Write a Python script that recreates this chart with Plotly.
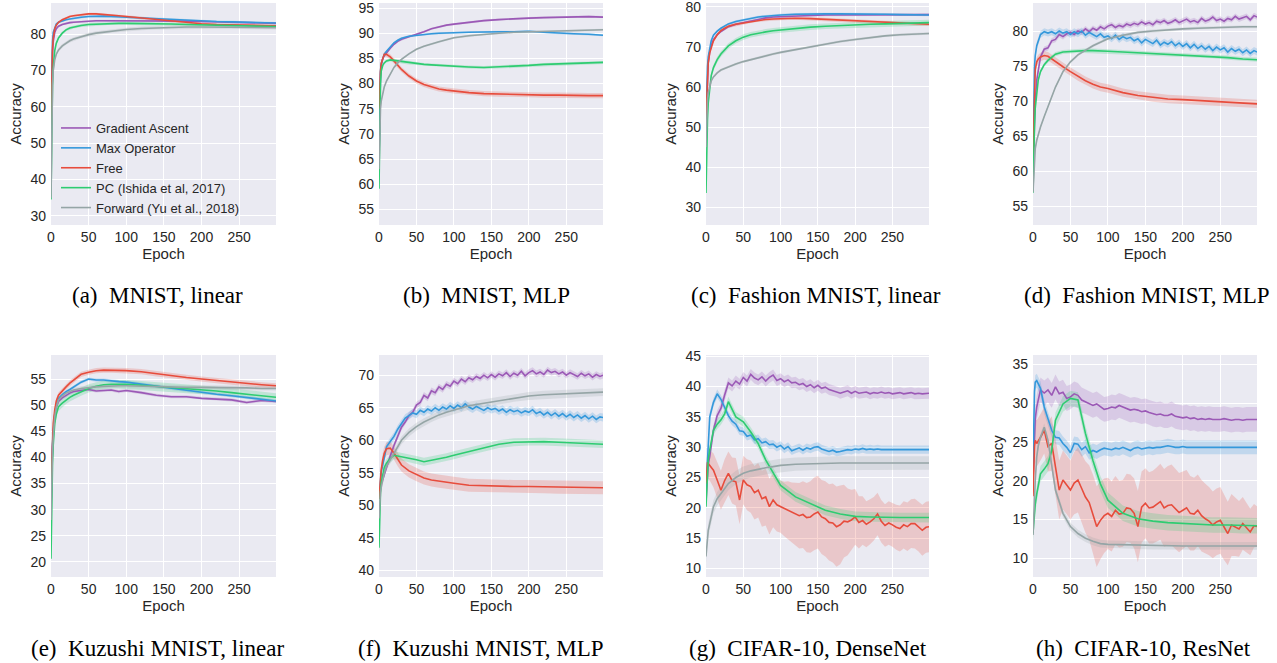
import plotly.graph_objects as go

# ---------------- data ----------------
SERIES = ["Gradient Ascent", "Max Operator", "Free", "PC (Ishida et al, 2017)", "Forward (Yu et al., 2018)"]
COLORS = ["#9b59b6", "#3498db", "#e74c3c", "#2ecc71", "#95a5a6"]

ES = [0, 1, 2, 3, 5, 7, 10, 15, 20, 25, 30, 40, 50, 60, 70, 80, 90, 100, 120, 140, 160, 180, 200, 220, 240, 260, 280, 299]
EN = [0, 1, 2, 3] + list(range(5, 300, 5)) + [299]

X_TICKS = [0, 50, 100, 150, 200, 250]

# (a) MNIST, linear
A_PURPLE = [50, 68, 75, 78, 80.5, 81.5, 82.2, 82.7, 83.0, 83.2, 83.3, 83.5, 83.6, 83.7, 83.7, 83.7, 83.7, 83.7, 83.8, 83.8, 83.7, 83.6, 83.5, 83.4, 83.3, 83.2, 83.1, 83.0]
A_BLUE = [55, 72, 78, 80.5, 82, 82.8, 83.3, 83.7, 84.0, 84.2, 84.4, 84.7, 84.9, 85.0, 85.0, 84.9, 84.8, 84.7, 84.4, 84.2, 84.0, 83.8, 83.6, 83.5, 83.4, 83.3, 83.2, 83.1]
A_RED = [55, 70, 76, 79, 81.5, 82.5, 83.3, 84.0, 84.5, 84.9, 85.1, 85.4, 85.6, 85.6, 85.5, 85.3, 85.1, 84.9, 84.5, 84.1, 83.6, 83.2, 82.9, 82.7, 82.6, 82.5, 82.4, 82.3]
A_GREEN = [34.5, 55, 66, 71, 75.5, 77.5, 79, 80.3, 81.2, 81.7, 82.0, 82.4, 82.7, 82.8, 82.9, 83.0, 83.0, 83.0, 83.0, 82.9, 82.8, 82.7, 82.6, 82.5, 82.4, 82.3, 82.2, 82.1]
A_GRAY = [35, 58, 66, 70, 73, 74.5, 75.7, 76.8, 77.6, 78.2, 78.7, 79.4, 79.9, 80.3, 80.6, 80.9, 81.1, 81.3, 81.6, 81.8, 81.9, 82.0, 82.0, 82.0, 82.0, 81.9, 81.9, 81.8]
A_STD = [0.3, 0.3, 0.3, 0.4, 0.5]

# (b) MNIST, MLP
B_PURPLE = [65, 78, 82, 83.5, 85, 85.5, 86.1, 87.0, 87.8, 88.4, 88.8, 89.3, 89.7, 90.3, 90.9, 91.3, 91.6, 91.8, 92.2, 92.5, 92.7, 92.9, 93.0, 93.1, 93.2, 93.3, 93.3, 93.2]
B_BLUE = [65, 79, 82.5, 84, 85.1, 85.8, 86.4, 87.3, 88.1, 88.6, 89.0, 89.4, 89.6, 89.8, 89.9, 90.0, 90.1, 90.1, 90.2, 90.3, 90.3, 90.3, 90.4, 90.2, 90.0, 89.9, 89.8, 89.6]
B_RED = [75, 80, 82.5, 84, 85.2, 85.8, 85.8, 85.3, 84.5, 83.6, 82.8, 81.5, 80.5, 79.8, 79.3, 78.9, 78.7, 78.5, 78.2, 78.0, 77.9, 77.8, 77.8, 77.7, 77.7, 77.6, 77.6, 77.6]
B_GREEN = [59.1, 74, 80, 82.5, 83.6, 84.1, 84.5, 84.7, 84.6, 84.4, 84.3, 84.1, 83.9, 83.8, 83.7, 83.6, 83.5, 83.5, 83.3, 83.2, 83.3, 83.4, 83.6, 83.8, 83.9, 84.0, 84.1, 84.2]
B_GRAY = [63, 72, 75, 76.5, 78, 79.3, 80.5, 82.0, 83.2, 84.1, 84.8, 85.9, 86.8, 87.4, 87.9, 88.3, 88.7, 89.1, 89.5, 89.8, 90.0, 90.2, 90.3, 90.4, 90.5, 90.6, 90.6, 90.7]
B_STD = [0.2, 0.2, 0.5, 0.3, 0.2]

# (c) Fashion MNIST, linear
C_PURPLE = [50, 58, 63.5, 66, 68.7, 70.3, 71.8, 73.0, 73.8, 74.5, 75.0, 75.6, 76.0, 76.5, 76.9, 77.2, 77.4, 77.5, 77.7, 77.8, 77.9, 77.9, 77.9, 77.9, 77.9, 77.9, 78.0, 78.0]
C_BLUE = [52, 60, 65, 67.5, 70, 71.5, 72.9, 73.9, 74.6, 75.2, 75.7, 76.3, 76.7, 77.1, 77.4, 77.6, 77.8, 77.9, 78.1, 78.2, 78.2, 78.2, 78.2, 78.1, 78.1, 78.0, 78.0, 77.9]
C_RED = [52, 59, 63.5, 66, 68.5, 70, 71.5, 73.0, 74.0, 74.6, 75.1, 75.6, 75.9, 76.3, 76.6, 76.8, 76.9, 77.0, 77.1, 77.0, 76.8, 76.6, 76.4, 76.2, 76.0, 75.8, 75.7, 75.6]
C_GREEN = [33.6, 45, 52, 56, 60.5, 62.8, 64.8, 66.8, 68.2, 69.3, 70.2, 71.5, 72.4, 73.0, 73.4, 73.7, 74.0, 74.2, 74.6, 74.9, 75.1, 75.3, 75.4, 75.6, 75.7, 75.8, 75.9, 76.0]
C_GRAY = [45, 53, 57, 58.5, 60.5, 61.5, 62.5, 63.5, 64.2, 64.6, 65.0, 65.7, 66.3, 66.8, 67.3, 67.7, 68.2, 68.6, 69.3, 70.0, 70.7, 71.3, 71.8, 72.3, 72.7, 73.0, 73.2, 73.3]
C_STD = [0.3, 0.3, 0.4, 0.7, 0.3]

# (d) Fashion MNIST, MLP
D_PURPLE = [60.0, 64.0, 67.5, 70.0, 73.0, 76.3, 77.4, 77.6, 78.6, 78.8,
            79.5, 79.2, 79.6, 79.8, 79.5, 80.0, 79.8, 80.3, 79.9, 80.4,
            80.1, 80.6, 80.3, 80.7, 80.9, 80.5, 80.8, 80.6, 81.0, 80.8,
            81.1, 80.9, 81.3, 81.0, 81.2, 80.9, 81.4, 81.2, 81.5, 81.1,
            81.3, 81.6, 81.2, 81.4, 81.7, 81.3, 81.5, 81.2, 81.8, 81.4,
            81.6, 82.0, 81.5, 81.7, 81.4, 81.8, 81.6, 82.1, 81.7, 81.9,
            82.1, 81.6, 82.2, 82.0]
D_BLUE = [62.0, 70.0, 74.9, 76.5, 77.9, 79.5, 79.9, 79.7, 79.9, 79.6,
          80.0, 79.7, 79.9, 79.5, 79.9, 79.6, 80.0, 79.4, 79.8, 79.5,
          79.2, 79.6, 79.1, 79.3, 78.9, 79.4, 78.8, 79.2, 78.9, 79.1,
          78.6, 78.9, 78.3, 78.8, 78.5, 78.2, 78.7, 78.0, 78.4, 78.1,
          78.5, 77.9, 78.3, 77.8, 78.2, 77.6, 78.1, 77.5, 77.9, 77.4,
          77.8, 77.2, 77.7, 77.3, 77.6, 77.0, 77.5, 77.1, 77.4, 76.9,
          77.3, 76.8, 77.2, 77.0]
D_RED = [62, 68, 73, 74.5, 75.6, 76.0, 76.3, 76.5, 76.4, 76.0, 75.6, 74.9, 74.2, 73.5, 72.9, 72.4, 72.0, 71.8, 71.2, 70.8, 70.5, 70.3, 70.2, 70.1, 70.0, 69.9, 69.7, 69.6]
D_GREEN = [56.9, 63, 66.5, 69, 71.5, 73, 74.2, 75.2, 75.8, 76.3, 76.7, 77.0, 77.1, 77.2, 77.2, 77.2, 77.1, 77.1, 77.0, 76.9, 76.8, 76.7, 76.6, 76.5, 76.4, 76.2, 76.0, 75.9]
D_GRAY = [57, 60, 62, 63.2, 64.4, 65.2, 66.3, 67.8, 69.2, 70.6, 72, 74.2, 75.6, 76.6, 77.3, 77.9, 78.4, 78.9, 79.4, 79.8, 80.0, 80.2, 80.3, 80.4, 80.5, 80.6, 80.6, 80.6]
D_STD = [0.4, 0.5, 0.6, 0.3, 0.2]

# (e) Kuzushi MNIST, linear
E_PURPLE = [30, 38, 42, 44.5, 48.1, 49.5, 50.7, 51.4, 51.9, 52.3, 52.6, 52.8, 53.0, 52.7, 52.8, 52.9, 52.6, 52.8, 52.4, 51.9, 51.6, 51.6, 51.3, 51.2, 51.0, 50.5, 50.9, 50.7]
E_BLUE = [30, 38, 42.5, 45, 48.4, 50, 51.3, 52.0, 52.6, 53.0, 53.5, 54.4, 55.0, 54.8, 54.8, 54.6, 54.5, 54.4, 54.0, 53.6, 53.2, 52.8, 52.4, 52.1, 51.8, 51.5, 51.1, 50.8]
E_RED = [35, 40, 44, 46.5, 49.1, 50.8, 51.9, 52.8, 53.5, 54.2, 54.8, 55.9, 56.3, 56.6, 56.7, 56.7, 56.7, 56.6, 56.4, 56.0, 55.6, 55.3, 55.0, 54.7, 54.4, 54.1, 53.9, 53.7]
E_GREEN = [20.6, 32, 39, 42.5, 46.5, 48.3, 49.7, 50.4, 51.0, 51.5, 51.9, 52.6, 53.2, 53.6, 53.9, 54.0, 54.0, 54.0, 53.8, 53.6, 53.3, 53.1, 52.9, 52.7, 52.4, 52.1, 51.8, 51.5]
E_GRAY = [28, 36, 41, 44, 47.8, 49.6, 51.0, 51.8, 52.3, 52.6, 52.9, 53.2, 53.4, 53.5, 53.6, 53.7, 53.7, 53.7, 53.6, 53.5, 53.5, 53.4, 53.4, 53.4, 53.3, 53.3, 53.2, 53.2]
E_STD = [0.3, 0.3, 0.5, 0.8, 0.4]

# (f) Kuzushi MNIST, MLP
F_PURPLE = [51.0, 52.0, 53.0, 53.5, 54.0, 56.0, 57.6, 59.2, 60.6, 62.0,
            62.8, 63.8, 64.3, 65.4, 65.8, 66.9, 66.5, 67.6, 67.3, 68.2,
            67.8, 68.6, 68.3, 69.1, 68.7, 69.4, 69.0, 69.6, 69.3, 69.8,
            69.5, 70.0, 69.6, 70.1, 69.7, 70.2, 69.9, 70.4, 69.8, 70.3,
            70.0, 70.6, 69.9, 70.4, 70.7, 70.2, 70.5, 70.1, 70.8, 70.4,
            70.6, 70.2, 70.5, 70.0, 70.4, 70.1, 69.8, 70.3, 69.9, 70.2,
            69.7, 70.1, 69.8, 70.0]
F_BLUE = [51.0, 53.0, 54.5, 55.2, 56.2, 59.0, 59.8, 60.6, 61.7, 62.5,
          63.4, 63.8, 64.2, 64.0, 64.6, 64.3, 64.8, 64.5, 65.0, 64.6,
          65.1, 64.8, 65.3, 64.9, 65.4, 65.0, 65.6, 65.1, 64.8, 65.2,
          64.9, 64.6, 65.0, 64.7, 64.9, 64.5, 64.8, 64.3, 64.7, 64.4,
          64.6, 64.2, 64.5, 64.3, 64.7, 64.1, 64.4, 63.9, 64.3, 63.8,
          64.2, 63.7, 64.1, 63.6, 64.0, 63.5, 63.9, 63.4, 63.8, 63.3,
          63.7, 63.2, 63.6, 63.5]
F_RED = [51, 53, 54.5, 55.5, 57, 58, 58.7, 58.8, 58.0, 57.0, 56.2, 55.3, 54.7, 54.2, 53.9, 53.7, 53.5, 53.4, 53.1, 53.0, 52.95, 52.9, 52.9, 52.85, 52.8, 52.8, 52.7, 52.7]
F_GREEN = [43.5, 49, 52, 53.5, 54.9, 55.8, 56.5, 57.2, 57.7, 57.6, 57.5, 57.2, 57.0, 56.7, 56.9, 57.1, 57.4, 57.7, 58.3, 58.9, 59.4, 59.7, 59.8, 59.8, 59.7, 59.6, 59.5, 59.4]
F_GRAY = [48, 50.5, 52, 52.8, 53.9, 54.9, 56, 57, 58, 59, 60, 61.2, 62.1, 62.8, 63.4, 63.9, 64.3, 64.6, 65.3, 65.7, 66.1, 66.5, 66.8, 67.0, 67.1, 67.2, 67.3, 67.4]
F_STD = [0.5, 0.6, 1.0, 0.6, 0.6]

# (g) CIFAR-10, DenseNet
G_PURPLE = [21.0, 24.0, 26.0, 27.2, 28.5, 32.8, 35.2, 36.4, 38.6, 40.6,
            40.1, 40.9, 40.4, 41.5, 40.9, 42.0, 41.4, 41.1, 41.6, 40.9,
            41.5, 41.9, 41.0, 41.3, 40.8, 41.1, 40.6, 40.7, 40.3, 40.5,
            40.0, 40.3, 39.8, 40.2, 39.7, 39.9, 39.5, 39.3, 39.2, 38.9,
            39.1, 39.3, 38.9, 39.2, 38.9, 39.0, 39.1, 38.8, 39.0, 38.9,
            39.1, 38.9, 39.0, 38.8, 38.9, 39.0, 38.8, 38.9, 39.0, 38.8,
            38.9, 38.8, 38.9, 38.9]
G_BLUE = [23.0, 26.0, 29.0, 31.5, 35.0, 37.4, 38.8, 37.9, 36.5, 35.2,
          34.3, 33.8, 32.7, 32.6, 31.8, 32.0, 31.2, 31.4, 30.7, 30.9,
          30.4, 30.5, 30.0, 30.3, 29.7, 30.1, 29.4, 29.7, 29.9, 29.5,
          29.9, 29.7, 30.0, 30.1, 29.7, 29.5, 29.3, 29.5, 29.2, 29.3,
          29.4, 29.6, 29.5, 29.7, 29.6, 29.8, 29.6, 29.7, 29.6, 29.7,
          29.6, 29.6, 29.7, 29.6, 29.6, 29.7, 29.6, 29.6, 29.6, 29.7,
          29.6, 29.6, 29.6, 29.6]
G_RED = [24.0, 26.0, 27.5, 27.3, 27.0, 26.2, 24.6, 22.9, 24.5, 25.7,
         24.5, 24.3, 21.3, 24.6, 23.8, 23.5, 22.5, 22.9, 21.5, 21.8,
         20.2, 21.3, 20.5, 20.2, 19.8, 19.6, 19.2, 19.0, 18.7, 18.9,
         18.4, 18.5, 19.0, 19.3, 18.5, 18.2, 17.6, 17.5, 16.9, 17.2,
         17.8, 17.7, 18.0, 18.5, 17.6, 17.9, 17.3, 17.7, 18.2, 19.0,
         17.8, 17.1, 17.5, 17.2, 16.8, 16.6, 17.2, 16.9, 17.4, 17.4,
         16.9, 16.3, 16.8, 16.9]
G_RED_STD = [1.5, 2.0, 2.5, 2.5, 2.5, 2.8, 3.0, 3.2, 3.5, 3.6,
             3.8, 3.9, 4.0, 4.0, 4.2, 4.3, 4.4, 4.5, 4.6, 4.7,
             4.6, 4.5, 4.4, 4.3, 4.5, 4.8, 5.0, 5.2, 5.4, 5.5,
             5.7, 5.9, 6.0, 6.0, 6.1, 6.2, 6.3, 6.5, 6.6, 6.5,
             6.0, 5.5, 5.0, 4.6, 4.3, 4.0, 3.8, 3.7, 3.6, 3.5,
             3.5, 3.5, 3.6, 3.6, 3.7, 3.8, 3.9, 4.0, 4.0, 4.1,
             4.1, 4.2, 4.2, 4.2]
G_GREEN = [20.2, 24, 26.5, 28, 29.5, 31, 32.8, 33.8, 34.5, 35.5, 37.5, 35, 34.2, 32.5, 30.6, 27.9, 25.7, 23.7, 21.8, 20.7, 19.6, 19.0, 18.6, 18.5, 18.4, 18.4, 18.4, 18.4]
G_GRAY = [12, 14, 15.5, 16.3, 17.4, 18.8, 20.2, 21.5, 22.4, 23.2, 24, 25, 25.7, 26.1, 26.4, 26.6, 26.8, 27.0, 27.2, 27.3, 27.35, 27.4, 27.4, 27.4, 27.4, 27.4, 27.4, 27.4]
G_STD = [0.9, 0.7, None, 0.8, 1.1]

# (h) CIFAR-10, ResNet
H_PURPLE = [20.0, 24.0, 26.5, 28.0, 29.5, 31.7, 31.3, 31.7, 31.0, 32.1,
            31.2, 31.4, 30.6, 30.8, 31.2, 31.0, 30.4, 30.2, 30.0, 29.7,
            29.9, 29.5, 29.2, 29.3, 29.5, 29.4, 29.7, 29.5, 29.3, 29.1,
            29.2, 29.1, 28.9, 29.0, 28.8, 28.6, 28.5, 28.6, 28.4, 28.4,
            28.6, 28.3, 28.2, 28.1, 28.2, 28.0, 28.1, 27.9, 28.0, 27.9,
            28.0, 27.9, 27.9, 27.9, 28.0, 27.9, 27.8, 27.9, 27.9, 27.8,
            27.9, 27.9, 27.9, 27.9]
H_BLUE = [22.0, 28.0, 31.5, 32.7, 32.9, 31.9, 29.5, 28.0, 26.5, 25.6,
          25.5, 24.8, 24.3, 23.6, 24.8, 24.7, 24.0, 24.4, 23.6, 23.9,
          23.7, 24.0, 24.2, 24.1, 24.0, 24.2, 24.1, 24.3, 24.1, 23.9,
          24.2, 24.3, 24.1, 24.2, 24.3, 24.2, 24.3, 24.3, 24.4, 24.5,
          24.4, 24.3, 24.3, 24.4, 24.3, 24.3, 24.3, 24.3, 24.3, 24.3,
          24.3, 24.3, 24.3, 24.3, 24.3, 24.3, 24.3, 24.3, 24.3, 24.3,
          24.3, 24.3, 24.3, 24.3]
H_RED = [18.0, 22.0, 24.5, 25.2, 24.8, 25.6, 26.5, 24.4, 24.8, 21.8,
         18.8, 20.1, 19.5, 18.8, 19.7, 20.1, 19.0, 17.9, 17.2, 15.8,
         14.1, 14.9, 15.5, 15.8, 15.4, 16.2, 15.7, 15.8, 16.5, 16.4,
         15.8, 14.1, 16.6, 17.1, 16.5, 16.6, 16.9, 17.3, 16.5, 16.8,
         16.9, 16.4, 15.9, 16.2, 16.5, 15.8, 15.7, 16.2, 15.5, 15.1,
         14.8, 14.3, 14.7, 14.9, 14.0, 13.2, 14.3, 14.1, 13.8, 14.5,
         14.0, 13.4, 14.2, 14.1]
H_RED_STD = [1.5, 2.0, 2.5, 2.8, 3.0, 3.0, 3.0, 3.2, 3.5, 3.6,
             3.8, 3.8, 3.8, 3.8, 4.0, 4.2, 4.4, 4.6, 4.8, 5.0,
             5.2, 5.0, 4.8, 4.6, 4.5, 4.4, 4.3, 4.3, 4.4, 4.4,
             4.5, 4.6, 4.6, 4.5, 4.6, 4.7, 4.8, 4.9, 5.0, 5.1,
             5.2, 5.2, 5.1, 5.0, 4.9, 4.8, 4.7, 4.6, 4.6, 4.5,
             4.4, 4.3, 4.3, 4.3, 4.2, 4.1, 4.0, 3.8, 3.6, 3.4,
             3.2, 3.0, 2.8, 2.6]
H_GREEN = [13.2, 15, 16.2, 17, 18.3, 19.5, 20.9, 21.5, 22.2, 23.9, 27.8, 29.9, 30.6, 30.4, 26.1, 22.6, 19.6, 17.5, 15.8, 15.1, 14.8, 14.6, 14.5, 14.4, 14.3, 14.3, 14.2, 14.2]
H_GRAY = [13, 16, 18.5, 20, 23.1, 24.5, 25.6, 26.9, 25.2, 21.8, 18.8, 15.8, 14.1, 13.2, 12.6, 12.2, 11.9, 11.8, 11.75, 11.7, 11.65, 11.6, 11.6, 11.6, 11.6, 11.6, 11.6, 11.6]
H_STD = [1.6, 0.9, None, 1.0, 0.5]

CAPTIONS = ["(a)\u00a0\u00a0MNIST, linear", "(b)\u00a0\u00a0MNIST, MLP", "(c)\u00a0\u00a0Fashion MNIST, linear",
            "(d)\u00a0\u00a0Fashion MNIST, MLP", "(e)\u00a0\u00a0Kuzushi MNIST, linear", "(f)\u00a0\u00a0Kuzushi MNIST, MLP",
            "(g)\u00a0\u00a0CIFAR-10, DenseNet", "(h)\u00a0\u00a0CIFAR-10, ResNet"]
Y_RANGES = [[27.5, 88.6], [51.9, 96.0], [25.6, 80.9], [52.3, 84.0],
            [17.1, 59.6], [39.0, 73.1], [8.6, 45.2], [7.6, 36.2]]
Y_TICKS = [[30, 40, 50, 60, 70, 80], [55, 60, 65, 70, 75, 80, 85, 90, 95], [30, 40, 50, 60, 70, 80],
           [55, 60, 65, 70, 75, 80], [20, 25, 30, 35, 40, 45, 50, 55], [40, 45, 50, 55, 60, 65, 70],
           [10, 15, 20, 25, 30, 35, 40, 45], [10, 15, 20, 25, 30, 35]]

PANELS = [
    [(ES, A_PURPLE, A_STD[0]), (ES, A_BLUE, A_STD[1]), (ES, A_RED, A_STD[2]), (ES, A_GREEN, A_STD[3]), (ES, A_GRAY, A_STD[4])],
    [(ES, B_PURPLE, B_STD[0]), (ES, B_BLUE, B_STD[1]), (ES, B_RED, B_STD[2]), (ES, B_GREEN, B_STD[3]), (ES, B_GRAY, B_STD[4])],
    [(ES, C_PURPLE, C_STD[0]), (ES, C_BLUE, C_STD[1]), (ES, C_RED, C_STD[2]), (ES, C_GREEN, C_STD[3]), (ES, C_GRAY, C_STD[4])],
    [(EN, D_PURPLE, D_STD[0]), (EN, D_BLUE, D_STD[1]), (ES, D_RED, D_STD[2]), (ES, D_GREEN, D_STD[3]), (ES, D_GRAY, D_STD[4])],
    [(ES, E_PURPLE, E_STD[0]), (ES, E_BLUE, E_STD[1]), (ES, E_RED, E_STD[2]), (ES, E_GREEN, E_STD[3]), (ES, E_GRAY, E_STD[4])],
    [(EN, F_PURPLE, F_STD[0]), (EN, F_BLUE, F_STD[1]), (ES, F_RED, F_STD[2]), (ES, F_GREEN, F_STD[3]), (ES, F_GRAY, F_STD[4])],
    [(EN, G_PURPLE, G_STD[0]), (EN, G_BLUE, G_STD[1]), (EN, G_RED, G_RED_STD), (ES, G_GREEN, G_STD[3]), (ES, G_GRAY, G_STD[4])],
    [(EN, H_PURPLE, H_STD[0]), (EN, H_BLUE, H_STD[1]), (EN, H_RED, H_RED_STD), (ES, H_GREEN, H_STD[3]), (ES, H_GRAY, H_STD[4])],
]

# ---------------- layout geometry (pixels) ----------------
W, H = 1277, 663
BOXES = [(51, 276, 3, 225), (379, 603, 3, 225), (706, 929, 3, 225), (1033, 1257, 3, 225),
         (51, 276, 355, 577), (379, 603, 355, 577), (706, 929, 355, 577), (1033, 1257, 355, 577)]
CAP_X = [157, 486, 816, 1147, 157, 481, 808, 1143]
CAP_Y = [295, 295, 295, 295, 648, 648, 648, 648]


def rgba(hexc, a):
    h = hexc.lstrip("#")
    return "rgba(%d,%d,%d,%s)" % (int(h[0:2], 16), int(h[2:4], 16), int(h[4:6], 16), a)


fig = go.Figure()
FONT = "Liberation Sans, Arial, sans-serif"

for p, panel in enumerate(PANELS):
    xa = "x" if p == 0 else "x%d" % (p + 1)
    ya = "y" if p == 0 else "y%d" % (p + 1)
    # bands
    for s, (xs, ys, sd) in enumerate(panel):
        sds = sd if isinstance(sd, list) else [sd] * len(ys)
        up = [v + d for v, d in zip(ys, sds)]
        lo = [v - d for v, d in zip(ys, sds)]
        fig.add_trace(go.Scatter(x=list(xs) + list(xs)[::-1], y=up + lo[::-1], fill="toself",
                                 fillcolor=rgba(COLORS[s], 0.22), line=dict(width=0),
                                 mode="lines", hoverinfo="skip", showlegend=False,
                                 xaxis=xa, yaxis=ya))
    # lines
    for s, (xs, ys, sd) in enumerate(panel):
        fig.add_trace(go.Scatter(x=xs, y=ys, mode="lines", name=SERIES[s],
                                 line=dict(color=COLORS[s], width=1.6),
                                 showlegend=(p == 0), legendgroup=SERIES[s],
                                 xaxis=xa, yaxis=ya))

layout = dict(width=W, height=H, margin=dict(l=0, r=0, t=0, b=0, autoexpand=False),
              paper_bgcolor="white", plot_bgcolor="#EAEAF2",
              font=dict(family=FONT, size=14, color="#262626"),
              showlegend=True,
              legend=dict(x=56 / W, y=1 - 113 / H, xanchor="left", yanchor="top",
                          bgcolor="rgba(0,0,0,0)", font=dict(size=13, family=FONT, color="#262626"),
                          itemwidth=30, tracegroupgap=0),
              annotations=[])

for p, (l, r, t, b) in enumerate(BOXES):
    xk = "xaxis" if p == 0 else "xaxis%d" % (p + 1)
    yk = "yaxis" if p == 0 else "yaxis%d" % (p + 1)
    ya = "y" if p == 0 else "y%d" % (p + 1)
    xa = "x" if p == 0 else "x%d" % (p + 1)
    layout[xk] = dict(domain=[l / W, r / W], anchor=ya, range=[0, 299], automargin=False,
                      tickvals=X_TICKS, showgrid=True, gridcolor="white", gridwidth=1.2,
                      zeroline=False, showline=False, ticks="", tickfont=dict(size=14),
                      ticklabeloverflow="allow", ticklabelstandoff=2,
                      title=dict(text="Epoch", font=dict(size=15), standoff=3))
    layout[yk] = dict(domain=[1 - b / H, 1 - t / H], anchor=xa, range=Y_RANGES[p], automargin=False,
                      tickvals=Y_TICKS[p], showgrid=True, gridcolor="white", gridwidth=1.2,
                      zeroline=False, showline=False, ticks="", tickfont=dict(size=14),
                      ticklabeloverflow="allow", ticklabelstandoff=4,
                      title=dict(text="Accuracy", font=dict(size=15), standoff=5))
    layout["annotations"].append(dict(text=CAPTIONS[p], x=CAP_X[p] / W, y=1 - CAP_Y[p] / H,
                                      xref="paper", yref="paper", showarrow=False,
                                      xanchor="center", yanchor="middle",
                                      font=dict(family="Liberation Serif, Times New Roman, serif",
                                                size=23, color="black")))

fig.update_layout(**layout)
fig.write_html("out.html", config={"displayModeBar": False},
               post_script="document.body.style.margin='0px';document.body.style.overflow='hidden';")
